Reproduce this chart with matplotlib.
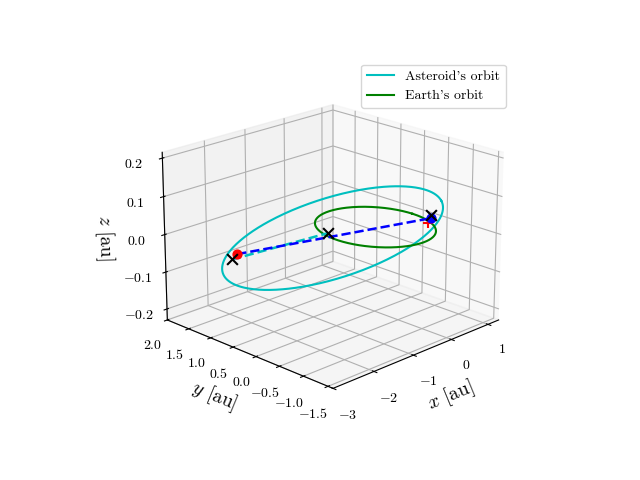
import numpy as np
import matplotlib
matplotlib.use('Agg')
import matplotlib.pyplot as plt

plt.rcParams['font.family'] = 'serif'
plt.rcParams['font.serif'] = ['cmr10']
plt.rcParams['mathtext.fontset'] = 'cm'
plt.rcParams['axes.formatter.use_mathtext'] = True

# asteroid orbit: centre and two conjugate semi-axis vectors (au)
ast_centre = [-0.74, 0.22, -0.01]
ast_axis_a = [2.42, -0.31, 0.026]
ast_axis_b = [0.06, 0.45, 0.075]
earth_r = 1.0

# marker positions (x, y, z)
earth_pos = [-0.79, 0.36, -0.005]
ast_obs = [-2.0, 1.3, -0.058]
ast_true = [-2.1, 1.33, -0.07]
ast_ref = [0.84, -0.52, 0.015]
ast_ref_x = [0.84, -0.52, 0.022]
earth_ref = [0.9, -0.4, -0.005]

fig = plt.figure(figsize=(6.4, 4.8))
ax = fig.add_subplot(111, projection='3d')

t = np.linspace(0, 2*np.pi, 400)
C = np.array(ast_centre)[:, None]
A = np.array(ast_axis_a)[:, None]
B = np.array(ast_axis_b)[:, None]
orb = C + A*np.cos(t) + B*np.sin(t)
ax.plot(orb[0], orb[1], orb[2], color='c', label="Asteroid's orbit")
ax.plot(earth_r*np.cos(t), earth_r*np.sin(t), 0*t, color='g', label="Earth's orbit")

ax.plot([ast_true[0], earth_pos[0]], [ast_true[1], earth_pos[1]], [ast_true[2], earth_pos[2]], 'c--', lw=1.8)
ax.plot([ast_obs[0], ast_ref[0]], [ast_obs[1], ast_ref[1]], [ast_obs[2], ast_ref[2]], 'b--', lw=1.8)
ax.scatter(*ast_obs, color='r', s=40, depthshade=False)
ax.scatter(*ast_ref, color='b', s=40, depthshade=False)
ax.scatter(*earth_ref, color='r', marker='+', s=60, depthshade=False)
for p in [earth_pos, ast_true, ast_ref_x]:
    ax.scatter(*p, color='k', marker='x', s=60, depthshade=False)

ax.set_xlim(-3, 1.3)
ax.set_ylim(-1.6, 2.0)
ax.set_zlim(-0.23, 0.215)
ax.set_xticks([-3, -2, -1, 0, 1])
ax.set_yticks([-1.5, -1.0, -0.5, 0.0, 0.5, 1.0, 1.5, 2.0])
ax.set_zticks([-0.2, -0.1, 0.0, 0.1, 0.2])
ax.set_xlabel(r'$x$ [au]', fontsize=14)
ax.set_ylabel(r'$y$ [au]', fontsize=14)
ax.set_zlabel(r'$z$ [au]', fontsize=14)
ax.view_init(elev=20, azim=-135)
ax.legend(loc='upper right')
fig.savefig('out.png', dpi=100)
